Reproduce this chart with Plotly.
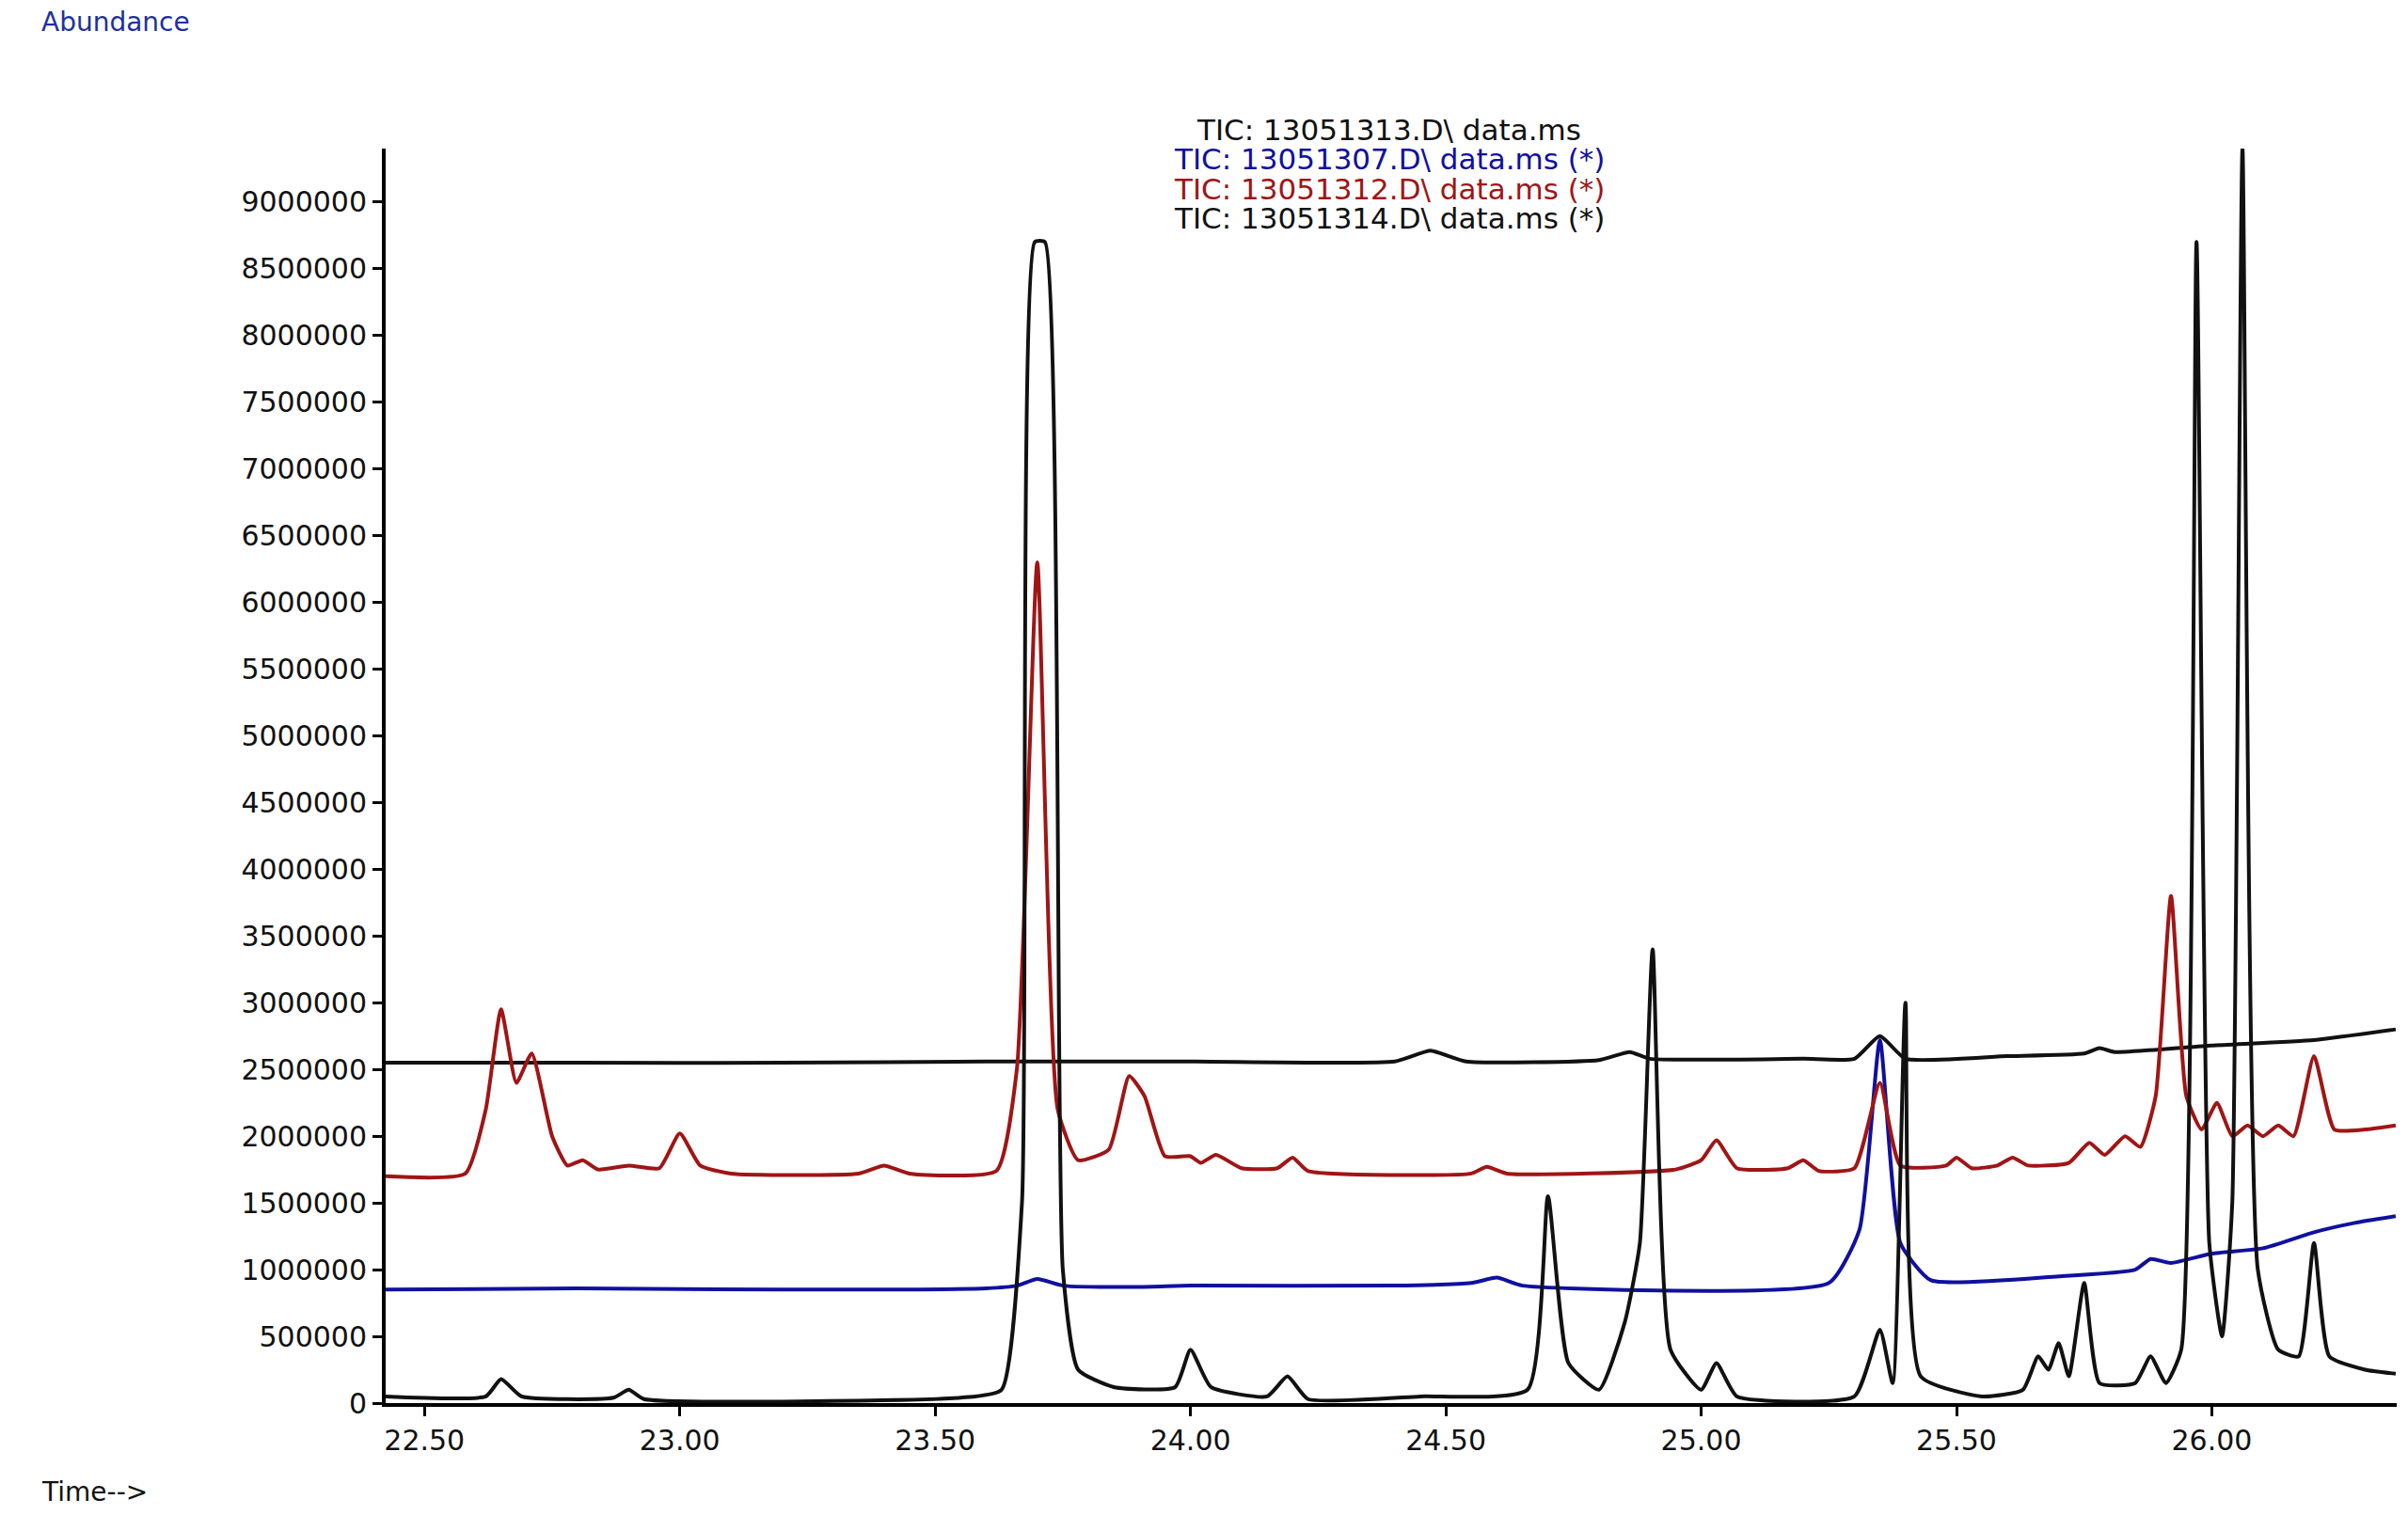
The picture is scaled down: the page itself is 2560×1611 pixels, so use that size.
import plotly.graph_objects as go

# Trace 13051313 (black, top)
t1 = [22.42, 22.80, 23.20, 23.60, 24.00, 24.40, 24.47, 24.54, 24.80, 24.86, 24.90, 25.20, 25.30, 25.35, 25.40, 25.60, 25.75, 25.78, 25.81, 26.00, 26.20, 26.36]
y1 = [2.55, 2.55, 2.55, 2.56, 2.56, 2.56, 2.64, 2.56, 2.57, 2.63, 2.58, 2.58, 2.58, 2.75, 2.58, 2.60, 2.62, 2.66, 2.63, 2.68, 2.72, 2.80]

# Trace 13051307 (blue)
t2 = [22.42, 22.80, 23.20, 23.60, 23.66, 23.70, 23.75, 23.90, 24.00, 24.40, 24.55, 24.60, 24.65, 25.25, 25.31, 25.35, 25.39, 25.45, 25.70, 25.85, 25.88, 25.92, 26.00, 26.10, 26.20, 26.28, 26.36]
y2 = [0.85, 0.86, 0.85, 0.86, 0.88, 0.93, 0.88, 0.87, 0.88, 0.88, 0.90, 0.94, 0.88, 0.90, 1.3, 2.72, 1.2, 0.92, 0.95, 1.0, 1.08, 1.05, 1.12, 1.16, 1.28, 1.35, 1.40]

# Trace 13051312 (dark red)
t3 = [22.42, 22.58, 22.62, 22.65, 22.68, 22.71, 22.75, 22.78, 22.81, 22.84, 22.90, 22.96, 23.00, 23.04, 23.10, 23.35, 23.40, 23.45, 23.62, 23.66, 23.70, 23.74, 23.78, 23.84, 23.88, 23.91, 23.95, 24.00, 24.02, 24.05, 24.10, 24.17, 24.20, 24.23, 24.55, 24.58, 24.62, 24.95, 25.00, 25.03, 25.07, 25.17, 25.20, 25.23, 25.30, 25.35, 25.39, 25.48, 25.50, 25.53, 25.58, 25.61, 25.64, 25.72, 25.76, 25.79, 25.83, 25.86, 25.89, 25.92, 25.95, 25.98, 26.01, 26.04, 26.07, 26.10, 26.13, 26.16, 26.20, 26.24, 26.30, 26.36]
y3 = [1.70, 1.72, 2.2, 2.95, 2.4, 2.62, 2.0, 1.78, 1.82, 1.75, 1.78, 1.76, 2.02, 1.78, 1.72, 1.72, 1.78, 1.72, 1.74, 2.5, 6.3, 2.2, 1.82, 1.90, 2.45, 2.3, 1.85, 1.85, 1.80, 1.86, 1.76, 1.76, 1.84, 1.74, 1.72, 1.77, 1.72, 1.75, 1.82, 1.97, 1.76, 1.76, 1.82, 1.74, 1.76, 2.4, 1.78, 1.78, 1.84, 1.76, 1.78, 1.84, 1.78, 1.80, 1.95, 1.86, 2.0, 1.92, 2.3, 3.8, 2.3, 2.05, 2.25, 2.0, 2.08, 2.0, 2.08, 2.0, 2.6, 2.05, 2.05, 2.08]

# Trace 13051314 (black, bottom)
t4 = [22.42, 22.62, 22.65, 22.69, 22.87, 22.90, 22.93, 23.55, 23.63, 23.67, 23.695, 23.715, 23.75, 23.78, 23.85, 23.97, 24.00, 24.04, 24.15, 24.19, 24.23, 24.45, 24.66, 24.70, 24.74, 24.80, 24.85, 24.88, 24.905, 24.94, 25.00, 25.03, 25.07, 25.30, 25.35, 25.375, 25.40, 25.43, 25.55, 25.63, 25.66, 25.68, 25.70, 25.72, 25.75, 25.78, 25.85, 25.88, 25.91, 25.94, 25.97, 25.995, 26.02, 26.04, 26.06, 26.09, 26.13, 26.17, 26.20, 26.23, 26.30, 26.36]
y4 = [0.05, 0.05, 0.18, 0.05, 0.04, 0.10, 0.03, 0.04, 0.10, 1.5, 8.7, 8.7, 1.0, 0.25, 0.12, 0.12, 0.40, 0.12, 0.05, 0.20, 0.03, 0.05, 0.10, 1.55, 0.30, 0.10, 0.60, 1.2, 3.4, 0.40, 0.10, 0.30, 0.05, 0.05, 0.55, 0.15, 3.0, 0.20, 0.05, 0.10, 0.35, 0.25, 0.45, 0.20, 0.90, 0.15, 0.15, 0.35, 0.15, 0.40, 8.7, 1.2, 0.50, 1.5, 9.4, 1.0, 0.40, 0.35, 1.2, 0.35, 0.25, 0.22]

names = ["TIC: 13051313.D\\ data.ms", "TIC: 13051307.D\\ data.ms (*)",
         "TIC: 13051312.D\\ data.ms (*)", "TIC: 13051314.D\\ data.ms (*)"]
colors = ["#111111", "#1010a0", "#a01515", "#111111"]
xticks = [22.5, 23.0, 23.5, 24.0, 24.5, 25.0, 25.5, 26.0]
yticks = [i * 500000 for i in range(19)]

fig = go.Figure()
for t, y, c, n in zip([t1, t2, t3, t4], [y1, y2, y3, y4], colors, names):
    fig.add_trace(go.Scatter(x=t, y=[v * 1e6 for v in y], mode="lines", name=n,
                             line=dict(color=c, width=4, shape="spline", smoothing=0.5)))

font = dict(family="DejaVu Sans", size=30, color="#111")
fig.update_layout(
    width=2560, height=1611, showlegend=False,
    paper_bgcolor="white", plot_bgcolor="white",
    margin=dict(l=402, r=20, t=150, b=127),
    font=font,
    xaxis=dict(range=[22.424, 26.362], tickvals=xticks, ticktext=[f"{v:.2f}" for v in xticks],
               showgrid=False, zeroline=False, showline=True, linecolor="black", linewidth=4,
               ticks="outside", ticklen=10, tickwidth=3, tickcolor="black"),
    yaxis=dict(range=[0, 9.4e6], tickvals=yticks, ticktext=[str(v) for v in yticks],
               showgrid=False, zeroline=False, showline=True, linecolor="black", linewidth=4,
               ticks="outside", ticklen=10, tickwidth=3, tickcolor="black"),
)
for i, (n, c) in enumerate(zip(names, colors)):
    fig.add_annotation(xref="paper", yref="paper", x=0.499, xanchor="center", y=1.0 - i * 0.0235,
                       yanchor="bottom", text=n, showarrow=False,
                       font=dict(family="DejaVu Sans", size=31, color=c))
fig.add_annotation(xref="paper", yref="paper", x=-0.172, y=1.115, xanchor="left", text="Abundance",
                   showarrow=False, font=dict(family="DejaVu Sans", size=28, color="#2030a0"))
fig.add_annotation(xref="paper", yref="paper", x=-0.172, y=-0.085, xanchor="left", text="Time-->",
                   showarrow=False, font=dict(family="DejaVu Sans", size=28, color="#111"))
fig.write_html("out.html")
